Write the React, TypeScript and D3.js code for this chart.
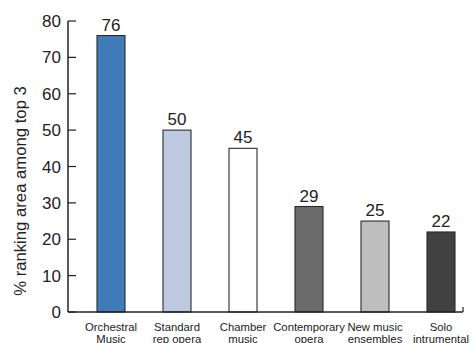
import React from "react";
import * as d3 from "d3";

const categories: string[][] = [
  ["Orchestral", "Music"],
  ["Standard", "rep opera"],
  ["Chamber", "music"],
  ["Contemporary", "opera"],
  ["New music", "ensembles"],
  ["Solo", "intrumental"],
];
const values: number[] = [76, 50, 45, 29, 25, 22];
const barColors: string[] = ["#3f7bb8", "#bdcae2", "#ffffff", "#6b6b6b", "#bebebe", "#414141"];
const yTicks: number[] = [0, 10, 20, 30, 40, 50, 60, 70, 80];
const yLabel = "% ranking area among top 3";

const W = 473;
const H = 343;
const axisLeft = 68;
const axisRight = 463;
const font = "'Liberation Sans', Arial, sans-serif";

export default function App() {
  const y = d3.scaleLinear().domain([0, 80]).range([312, 21]);
  const x = d3
    .scaleBand<number>()
    .domain(values.map((_, i) => i))
    .range([78, 474])
    .paddingInner(0.576)
    .paddingOuter(0.288);
  const bw = x.bandwidth();

  return (
    <svg
      width={W}
      height={H}
      style={{ position: "absolute", left: 0, top: 0, background: "#fff" }}
    >
      {/* bars */}
      {values.map((v, i) => (
        <rect
          key={i}
          x={x(i)!}
          y={y(v)}
          width={bw}
          height={y(0) - y(v)}
          fill={barColors[i]}
          stroke="#2a2a2a"
          strokeWidth={1.1}
        />
      ))}
      {/* value labels */}
      {values.map((v, i) => (
        <text
          key={"v" + i}
          x={x(i)! + bw / 2}
          y={y(v) - 5}
          textAnchor="middle"
          fontFamily={font}
          fontSize={17}
          fill="#222"
        >
          {v}
        </text>
      ))}
      {/* y axis */}
      <line x1={axisLeft} x2={axisLeft} y1={y(80)} y2={y(0)} stroke="#222" strokeWidth={1.5} />
      {yTicks.map((t) => (
        <g key={"t" + t}>
          <line x1={axisLeft} x2={axisLeft + 8} y1={y(t)} y2={y(t)} stroke="#222" strokeWidth={1.2} />
          <text
            x={axisLeft - 7}
            y={y(t)}
            dy="0.36em"
            textAnchor="end"
            fontFamily={font}
            fontSize={17}
            fill="#222"
          >
            {t}
          </text>
        </g>
      ))}
      {/* x axis */}
      <line x1={axisLeft} x2={axisRight} y1={y(0)} y2={y(0)} stroke="#222" strokeWidth={1.5} />
      <line x1={axisRight} x2={axisRight} y1={y(0)} y2={y(0) - 5} stroke="#222" strokeWidth={1.2} />
      {/* category labels */}
      {categories.map((lines, i) => (
        <text
          key={"c" + i}
          x={x(i)! + bw / 2}
          y={330.5}
          textAnchor="middle"
          fontFamily={font}
          fontSize={11.3}
          fill="#222"
        >
          {lines.map((l, j) => (
            <tspan key={j} x={x(i)! + bw / 2} dy={j === 0 ? 0 : 12.5}>
              {l}
            </tspan>
          ))}
        </text>
      ))}
      {/* y axis title */}
      <text
        transform="translate(26, 191) rotate(-90)"
        textAnchor="middle"
        fontFamily={font}
        fontSize={16.7}
        fill="#222"
      >
        {yLabel}
      </text>
    </svg>
  );
}
